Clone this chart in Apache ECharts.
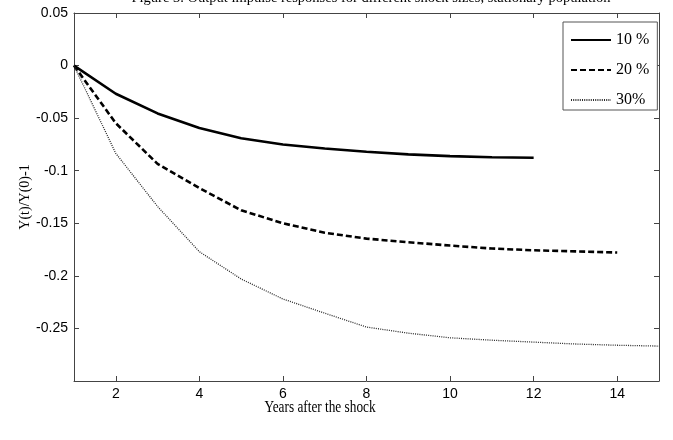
<!DOCTYPE html>
<html>
<head>
<meta charset="utf-8">
<script src="https://cdn.jsdelivr.net/npm/echarts@6/dist/echarts.min.js"></script>
<style>html,body{margin:0;padding:0;background:#fff}#c{width:673px;height:440px}</style>
</head>
<body>
<div id="c"></div>
<script>
var years = [1, 2, 3, 4, 5, 6, 7, 8, 9, 10, 11, 12, 13, 14, 15];
var shock10 = [0, -0.0268, -0.0455, -0.0594, -0.0692, -0.0750, -0.0789, -0.0820, -0.0845, -0.0861, -0.0872, -0.0876];
var shock20 = [0, -0.0548, -0.0935, -0.1165, -0.1376, -0.1500, -0.1590, -0.1646, -0.1680, -0.1712, -0.1740, -0.1757, -0.1767, -0.1778];
var shock30 = [0, -0.0835, -0.1340, -0.1770, -0.2030, -0.2220, -0.2355, -0.2487, -0.2545, -0.2589, -0.2612, -0.2630, -0.2648, -0.2660, -0.2668];
var seriesNames = ['10 %', '20 %', '30%'];
var yTicks = [0.05, 0, -0.05, -0.1, -0.15, -0.2, -0.25];
var xTicks = [2, 4, 6, 8, 10, 12, 14];
var titleText = 'Figure 3. Output impulse responses for different shock sizes, stationary population';
var xTitle = 'Years after the shock';
var yTitle = 'Y(t)/Y(0)-1';

function pairs(vals) { return vals.map(function (v, i) { return [years[i], v]; }); }

var chart = echarts.init(document.getElementById('c'), null, { renderer: 'canvas' });
var axisLineStyle = { color: '#444', width: 1 };
var option = {
  animation: false,
  backgroundColor: '#fff',
  grid: { left: 74, right: 14, top: 13, bottom: 59, containLabel: false },
  xAxis: [{
    type: 'value', min: 1, max: 15, interval: 1,
    axisLine: { show: true, onZero: false, lineStyle: axisLineStyle },
    axisTick: { show: true, inside: true, length: 5, lineStyle: axisLineStyle, customValues: xTicks },
    axisLabel: { show: true, customValues: xTicks, color: '#000', fontFamily: 'Liberation Sans, Arial, sans-serif', fontSize: 14, margin: 6 },
    splitLine: { show: false }
  }, {
    type: 'value', min: 1, max: 15, interval: 1, position: 'top',
    axisLine: { show: true, onZero: false, lineStyle: axisLineStyle },
    axisTick: { show: true, inside: true, length: 5, lineStyle: axisLineStyle, customValues: xTicks },
    axisLabel: { show: false }, splitLine: { show: false }
  }],
  yAxis: [{
    type: 'value', min: -0.3, max: 0.05, interval: 0.05,
    axisLine: { show: true, onZero: false, lineStyle: axisLineStyle },
    axisTick: { show: true, inside: true, length: 5, lineStyle: axisLineStyle, customValues: yTicks },
    axisLabel: {
      show: true, customValues: yTicks, color: '#000', fontFamily: 'Liberation Sans, Arial, sans-serif', fontSize: 14, margin: 6,
      formatter: function (v) { return String(+(+v).toFixed(2)); }
    },
    splitLine: { show: false },
    name: yTitle, nameLocation: 'middle', nameGap: 42, nameRotate: 90, nameMoveOverlap: false,
    nameTextStyle: { color: '#000', fontFamily: 'Liberation Serif, Times New Roman, serif', fontSize: 14 }
  }, {
    type: 'value', min: -0.3, max: 0.05, interval: 0.05, position: 'right',
    axisLine: { show: true, onZero: false, lineStyle: axisLineStyle },
    axisTick: { show: true, inside: true, length: 5, lineStyle: axisLineStyle, customValues: yTicks },
    axisLabel: { show: false }, splitLine: { show: false }
  }],
  legend: {
    orient: 'vertical', left: 563, top: 22, width: 92,
    padding: [10, 8, 2, 7], itemGap: 14, itemWidth: 40, itemHeight: 14,
    backgroundColor: '#fff', borderColor: '#555', borderWidth: 1, borderRadius: 0,
    itemStyle: { opacity: 0 },
    textStyle: { color: '#000', fontFamily: 'Liberation Serif, Times New Roman, serif', fontSize: 16, padding: [0, 0, 0, 0] },
    data: seriesNames
  },
  series: [{
    name: seriesNames[0], type: 'line', data: pairs(shock10), symbol: 'none', clip: true,
    lineStyle: { color: '#000', width: 2.6, type: 'solid' }, itemStyle: { color: '#000' }
  }, {
    name: seriesNames[1], type: 'line', data: pairs(shock20), symbol: 'none', clip: true,
    lineStyle: { color: '#000', width: 2.6, type: [6, 3] }, itemStyle: { color: '#000' }
  }, {
    name: seriesNames[2], type: 'line', data: pairs(shock30), symbol: 'none', clip: true,
    lineStyle: { color: '#2a2a2a', width: 1.3, type: [1, 1.2] }, itemStyle: { color: '#2a2a2a' }
  }],
  graphic: [{
    type: 'text', x: 371, y: -2,
    style: { text: titleText, fill: '#000', font: '14.5px "Liberation Serif", "Times New Roman", serif', align: 'center', verticalAlign: 'middle' }
  }, {
    type: 'text', x: 320, y: 408, scaleX: 0.83,
    style: { text: xTitle, fill: '#000', font: '16px "Liberation Serif", "Times New Roman", serif', align: 'center', verticalAlign: 'middle' }
  }]
};
chart.setOption(option);
</script>
</body>
</html>
